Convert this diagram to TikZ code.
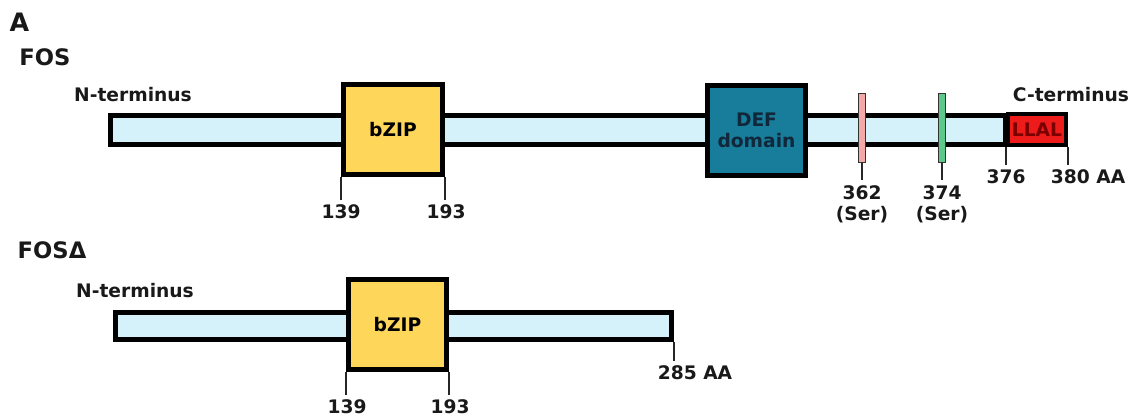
\documentclass[tikz,border=0pt]{standalone}
\usepackage{fontspec}
\setmainfont{DejaVu Sans}
\usepackage{tikz}
\usetikzlibrary{positioning,calc}
\usepackage{xcolor}

\definecolor{barblue}{HTML}{D5F2FB}
\definecolor{zipyellow}{HTML}{FDD65A}
\definecolor{defteal}{HTML}{187C9B}
\definecolor{deftext}{HTML}{10283A}
\definecolor{serpink}{HTML}{F4A9A9}
\definecolor{sergreen}{HTML}{5CC88A}
\definecolor{llalred}{HTML}{EE1B1B}
\definecolor{llaltext}{HTML}{7A0000}

\begin{document}
\begin{tikzpicture}[x=0.75pt, y=-0.75pt,
    chainbar/.style={draw=black, line width=3.4pt, fill=barblue, inner sep=0pt, minimum height=22.1pt},
    domainbox/.style={draw=black, line width=3.6pt, inner sep=0pt, minimum width=74.4pt, minimum height=67.6pt, font=\fontsize{14}{16}\selectfont\bfseries, align=center},
    sitebar/.style={draw=black!80, line width=0.8pt, inner sep=0pt, minimum width=5.2pt, minimum height=51.7pt},
    tickline/.style={gray!30!black, line width=1pt},
    numlabel/.style={font=\fontsize{14}{16}\selectfont\bfseries, text=black!90, align=center},
    titlelabel/.style={font=\fontsize{17}{20}\selectfont\bfseries, text=black!90}
]
    \useasboundingbox (0,0) rectangle (1136,418);

    % Titles
    \node[titlelabel, font=\fontsize{19}{22}\selectfont\bfseries] (panel) at (19.5,22) {A};
    \node[titlelabel] (fos) at (45,57) {FOS};
    \node[titlelabel] (fosd) at (52,250) {FOSΔ};

    % FOS - full length
    \node[numlabel] (nterm) at (133,95) {N-terminus};
    \node[numlabel] (cterm) at (1071,95) {C-terminus};
    \node[chainbar, minimum width=671.6pt] (fosbar) at (558,130) {};
    \node[domainbox, fill=zipyellow] (bzip) at (393,129.5) {bZIP};
    \node[domainbox, fill=defteal, text=deftext, minimum width=73.6pt] (def) at (756.5,130.5) {DEF\\domain};
    \node[sitebar, fill=serpink] (ser362) at (862,128) {};
    \node[sitebar, fill=sergreen] (ser374) at (942,128) {};
    \node[domainbox, fill=llalred, text=llaltext, line width=3pt, minimum width=43.5pt, minimum height=23.25pt] (llal) at (1037,129.5) {LLAL};

    % FOS positions
    \node[numlabel] (n139) at (341,212) {139};
    \node[numlabel] (n193) at (446,212) {193};
    \node[numlabel] (n362) at (862,204) {362\\(Ser)};
    \node[numlabel] (n374) at (942,204) {374\\(Ser)};
    \node[numlabel] (n376) at (1006,177) {376};
    \node[numlabel] (n380) at (1088,177) {380 AA};

    \draw[tickline] (bzip.south west) -- (bzip.south west |- n139.north);
    \draw[tickline] (bzip.south east) -- (bzip.south east |- n193.north);
    \draw[tickline] (ser362.south) -- (n362.north);
    \draw[tickline] (ser374.south) -- (n374.north);
    \draw[tickline] (llal.south west) -- (llal.south west |- n376.north);
    \draw[tickline] (llal.south east) -- (llal.south east |- n380.north);

    % FOS delta - truncated
    \node[numlabel] (ntermd) at (135,291) {N-terminus};
    \node[chainbar, minimum width=417.3pt, minimum height=20.6pt] (dbar) at (393.5,326) {};
    \node[domainbox, fill=zipyellow, minimum width=73.6pt] (bzipd) at (397.5,324.5) {bZIP};

    % FOS delta positions
    \node[numlabel] (d139) at (347,407) {139};
    \node[numlabel] (d193) at (450,407) {193};
    \node[numlabel] (d285) at (695,373) {285 AA};

    \draw[tickline] (bzipd.south west) -- (bzipd.south west |- d139.north);
    \draw[tickline] (bzipd.south east) -- (bzipd.south east |- d193.north);
    \draw[tickline] (dbar.south east) -- (dbar.south east |- d285.north);
\end{tikzpicture}
\end{document}
